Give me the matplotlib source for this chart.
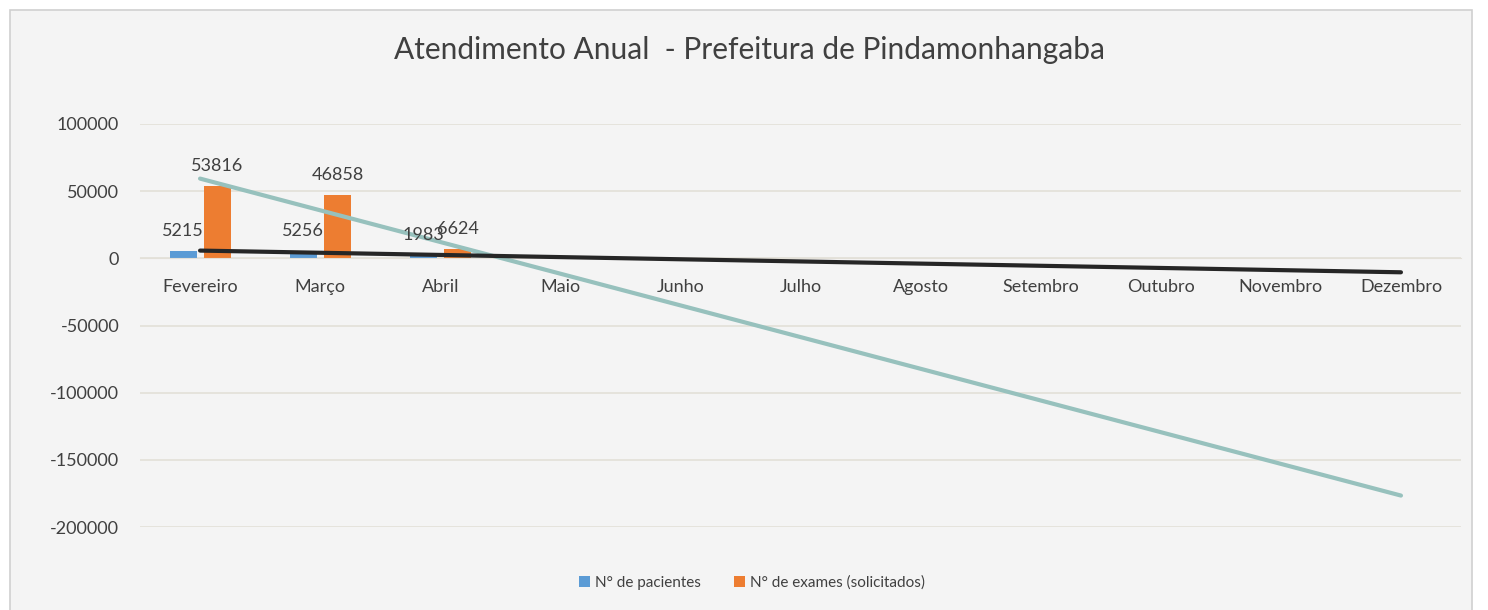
import matplotlib.pyplot as plt
import matplotlib.patches as mpatches
import numpy as np

plt.rcParams['font.family'] = ['Lato', 'DejaVu Sans']

# data
meses = ["Fevereiro", "Março", "Abril", "Maio", "Junho", "Julho", "Agosto",
         "Setembro", "Outubro", "Novembro", "Dezembro"]
pacientes = [5215, 5256, 1983]
exames = [53816, 46858, 6624]
y_ticks = [100000, 50000, 0, -50000, -100000, -150000, -200000]

cor_pac = "#5b9bd5"
cor_exa = "#ed7d31"
cor_txt = "#404040"

fig = plt.figure(figsize=(14.88, 6.10), dpi=100)
fig.patch.set_facecolor("white")
# chart area frame like excel
frame = mpatches.Rectangle((10 / 1488, -0.01), 1462 / 1488, 1 - 10 / 610 + 0.01,
                           transform=fig.transFigure, facecolor="#f4f4f4",
                           edgecolor="#d0d0d0", linewidth=1.2, zorder=-5)
fig.patches.append(frame)

ax = fig.add_axes([140 / 1488, 1 - 527 / 610, 1321 / 1488, 403 / 610])
ax.set_facecolor("none")
ax.set_zorder(2)
# category axis crosses at zero (set first, it resets the tick settings)
ax.spines["bottom"].set_position(("data", 0))
ax.spines["bottom"].set_color("#e3e0d8")
for s in ["top", "right", "left"]:
    ax.spines[s].set_visible(False)

x = np.arange(1, len(meses) + 1)
xb = x[:len(pacientes)]
w = 0.225
b1 = ax.bar(xb - 0.14, pacientes, w, color=cor_pac, zorder=2, label="N° de pacientes")
b2 = ax.bar(xb + 0.145, exames, w, color=cor_exa, zorder=2, label="N° de exames (solicitados)")

for xi, v in zip(xb - 0.14, pacientes):
    ax.annotate(str(v), (xi, v), xytext=(0, 9), textcoords="offset points",
                ha="center", va="bottom", fontsize=13, color=cor_txt, zorder=4)
for xi, v in zip(xb + 0.145, exames):
    ax.annotate(str(v), (xi, v), xytext=(0, 9), textcoords="offset points",
                ha="center", va="bottom", fontsize=13, color=cor_txt, zorder=4)

# linear trendlines (same as excel) over all months
cp = np.polyfit(xb, pacientes, 1)
ce = np.polyfit(xb, exames, 1)
ax.plot(x, np.polyval(ce, x), color="#97c1bd", linewidth=3, zorder=3,
        solid_capstyle="round")
ax.plot(x, np.polyval(cp, x), color="#262626", linewidth=3, zorder=3,
        solid_capstyle="round")

ax.set_xlim(0.5, len(meses) + 0.5)
ax.set_ylim(-200000, 100000)
ax.set_yticks(y_ticks)
ax.set_yticklabels([str(t) for t in y_ticks], fontsize=13, color=cor_txt)
ax.set_xticks(x)
ax.set_xticklabels(meses, fontsize=13, color=cor_txt)
ax.grid(axis="y", color="#e3e0d8", linewidth=1.2, zorder=1)
ax.set_axisbelow(True)
ax.tick_params(length=0)
ax.tick_params(axis="x", pad=15)
ax.tick_params(axis="y", pad=15)

fig.text(749 / 1488, 1 - 50 / 610, "Atendimento Anual  - Prefeitura de Pindamonhangaba",
         ha="center", va="center", fontsize=21.5, color=cor_txt)

fig.legend(handles=[b1, b2], loc="center", bbox_to_anchor=(752 / 1488, 1 - 583 / 610),
           ncol=2, frameon=False, fontsize=11, handlelength=0.7, handleheight=0.7,
           handletextpad=0.3, columnspacing=2.2, labelcolor=cor_txt)

fig.savefig("out.png", dpi=100, facecolor=fig.get_facecolor())
